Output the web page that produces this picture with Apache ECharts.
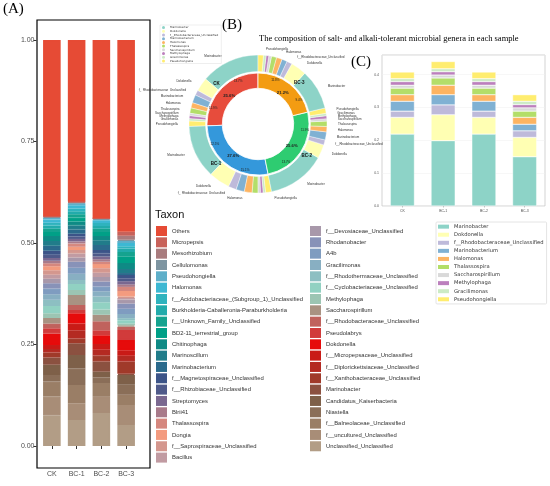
<!DOCTYPE html>
<html><head><meta charset="utf-8">
<script src="https://cdn.jsdelivr.net/npm/echarts@6/dist/echarts.min.js"></script>
<style>html,body{margin:0;padding:0;background:#fff}#c{width:550px;height:486px}</style>
</head><body><div id="c"></div>
<script>
// ---------- Panel A : relative abundance of taxa (legend order, top to bottom) ----------
const samples = ['CK', 'BC-1', 'BC-2', 'BC-3'];
const taxa = ['Others','Micropepsis','Mesorhizobium','Cellulomonas','Pseudohongiella','Halomonas',
  'f__Acidobacteriaceae_(Subgroup_1)_Unclassified','Burkholderia-Caballeronia-Paraburkholderia',
  'f__Unknown_Family_Unclassified','BD2-11_terrestrial_group','Chitinophaga','Marinoscillum',
  'Marinobacterium','f__Magnetospiraceae_Unclassified','f__Rhizobiaceae_Unclassified','Streptomyces',
  'Blrii41','Thalassospira','Dongia','f__Saprospiraceae_Unclassified','Bacillus',
  'f__Devosiaceae_Unclassified','Rhodanobacter','A4b','Gracilimonas','f__Rhodothermaceae_Unclassified',
  'f__Cyclobacteriaceae_Unclassified','Methylophaga','Saccharospirillum','f__Rhodobacteraceae_Unclassified',
  'Pseudolabrys','Dokdonella','f__Micropepsaceae_Unclassified','f__Diplorickettsiaceae_Unclassified',
  'f__Xanthobacteraceae_Unclassified','Marinobacter','Candidatus_Kaiserbacteria','Niastella',
  'f__Balneolaceae_Unclassified','f__uncultured_Unclassified','Unclassified_Unclassified'];
const taxaColors = ['#E64B35','#C8625A','#A97C7E','#7E95A1','#5EAFC9','#3DB8D3','#2FB3BE','#22ABAB',
  '#15A38F','#00A087','#0F8A85','#217C8A','#2B6A8C','#3C5488','#4F5A8A','#7A6890','#A87A8A','#D5877E',
  '#F39B7F','#D4978E','#C19BA2','#A898AA','#8892B8','#7F9CC0','#88AFC2','#8DBFC2','#91D1C2','#9CC5B3',
  '#A99282','#C0625D','#D13B3B','#E60B0B','#C91B17','#B42A22','#A03A2A','#8B5140','#7E6049','#8A6E58',
  '#9A7E66','#A88D77','#B29D86'];
const abundCK  = [0.434,0.001,0.001,0.002,0.004,0.008,0.007,0.008,0.008,0.010,0.012,0.012,0.012,0.010,0.008,0.007,
  0.006,0.007,0.010,0.011,0.010,0.011,0.013,0.014,0.014,0.015,0.018,0.012,0.013,0.012,0.013,0.028,0.010,0.009,
  0.012,0.018,0.025,0.016,0.037,0.047,0.075];
const abundBC1 = [0.398,0.001,0.001,0.002,0.005,0.008,0.007,0.007,0.008,0.010,0.010,0.010,0.010,0.007,0.006,0.006,
  0.005,0.008,0.008,0.009,0.010,0.010,0.015,0.015,0.015,0.010,0.015,0.012,0.025,0.012,0.008,0.025,0.017,0.020,
  0.012,0.029,0.033,0.041,0.045,0.041,0.064];
const abundBC2 = [0.439,0.0005,0.0005,0.001,0.003,0.007,0.007,0.007,0.008,0.010,0.010,0.012,0.012,0.009,0.007,0.007,
  0.006,0.006,0.010,0.011,0.011,0.011,0.012,0.012,0.013,0.014,0.018,0.013,0.016,0.022,0.012,0.022,0.014,0.014,
  0.015,0.025,0.014,0.014,0.034,0.040,0.081];
const abundBC3 = [0.472,0.010,0.010,0.003,0.005,0.008,0.006,0.008,0.012,0.015,0.015,0.010,0.005,0.008,0.007,0.008,
  0.006,0.010,0.014,0.003,0.004,0.010,0.013,0.013,0.010,0.005,0.008,0.005,0.003,0.008,0.025,0.025,0.014,0.014,
  0.030,0.003,0.024,0.025,0.025,0.049,0.052];
const yTicksA = [0, 0.25, 0.5, 0.75, 1];

// ---------- Panels B & C : salt- and alkali-tolerant genera ----------
const genera = ['Marinobacter','Dokdonella','f__Rhodobacteraceae_Unclassified','Marinobacterium','Halomonas',
  'Thalassospira','Saccharospirillum','Methylophaga','Gracilimonas','Pseudohongiella'];
const generaColors = ['#8DD3C7','#FFFFB3','#BEBADA','#80B1D3','#FDB462','#B3DE69','#D9D9D9','#BC80BD','#CCEBC5','#FFED6F'];
const valMarinobacter    = [0.219, 0.199, 0.219, 0.150];
const valDokdonella      = [0.051, 0.079, 0.051, 0.059];
const valRhodobacteraceae= [0.019, 0.030, 0.019, 0.020];
const valMarinobacterium = [0.030, 0.031, 0.030, 0.020];
const valHalomonas       = [0.020, 0.029, 0.020, 0.021];
const valThalassospira   = [0.020, 0.022, 0.020, 0.019];
const valSaccharospirillum=[0.009, 0.009, 0.009, 0.010];
const valMethylophaga    = [0.011, 0.010, 0.011, 0.010];
const valGracilimonas    = [0.009, 0.009, 0.009, 0.010];
const valPseudohongiella = [0.020, 0.022, 0.020, 0.020];
const sampleColors = ['#E74C3C', '#3498DB', '#2ECC71', '#F39C12'];
const yTicksC = [0, 0.1, 0.2, 0.3, 0.4];

const generaVals = [valMarinobacter, valDokdonella, valRhodobacteraceae, valMarinobacterium, valHalomonas,
  valThalassospira, valSaccharospirillum, valMethylophaga, valGracilimonas, valPseudohongiella];
const abundBySample = [abundCK, abundBC1, abundBC2, abundBC3];
const strip = n => n.replace(/^[A-Z]:/, '');

const series = [];
// Panel A stacked bars (bottom = last legend entry)
for (let i = taxa.length - 1; i >= 0; i--) {
  series.push({
    type: 'bar', name: 'A:' + taxa[i], stack: 'A', xAxisIndex: 0, yAxisIndex: 0,
    barWidth: '71%', data: abundBySample.map(a => a[i]),
    itemStyle: { color: taxaColors[i], borderColor: taxaColors[i], borderWidth: 1.4 }, emphasis: { disabled: true }
  });
}
// Panel C stacked bars
genera.forEach((g, k) => {
  series.push({
    type: 'bar', name: 'C:' + g, stack: 'C', xAxisIndex: 1, yAxisIndex: 1,
    barWidth: '59%', data: generaVals[k],
    itemStyle: { color: generaColors[k], borderColor: '#fff', borderWidth: 0.4 },
    emphasis: { disabled: true }
  });
});
// Panel B
const pieCenter = [258, 124];
const outerData = [];
samples.forEach((s, j) => {
  genera.forEach((g, k) => {
    outerData.push({ name: 'B:' + g, value: generaVals[k][j], itemStyle: { color: generaColors[k] } });
  });
});
const sampleTotals = samples.map((s, j) => generaVals.reduce((t, v) => t + v[j], 0));
const pieCommon = { type: 'pie', center: pieCenter, startAngle: 90, clockwise: false,
  avoidLabelOverlap: false, animation: false, emphasis: { disabled: true }, percentPrecision: 1 };
series.push(Object.assign({}, pieCommon, {
  name: 'outer', radius: [52.5, 69], data: outerData,
  itemStyle: { borderColor: '#fff', borderWidth: 0.4 },
  label: { show: true, position: 'outside', fontSize: 3, color: '#333', formatter: p => strip(p.name) },
  labelLine: { show: false, length: 6, length2: 0 }
}));
series.push(Object.assign({}, pieCommon, {
  name: 'inner', radius: [35.7, 51],
  data: samples.map((s, j) => ({ name: 'S:' + s, value: sampleTotals[j], itemStyle: { color: sampleColors[j] } })),
  itemStyle: { borderColor: '#fff', borderWidth: 0.8 }, label: { show: false }, labelLine: { show: false }
}));
// small percentage labels inside inner ring (Marinobacter share / remainder)
const subData = [];
samples.forEach((s, j) => {
  subData.push({ name: 'm' + s, value: valMarinobacter[j] });
  subData.push({ name: 'r' + s, value: sampleTotals[j] - valMarinobacter[j] });
});
series.push(Object.assign({}, pieCommon, {
  name: 'innerSub', radius: [38, 51], silent: true, data: subData,
  itemStyle: { color: 'rgba(0,0,0,0)' },
  label: { show: true, position: 'inside', fontSize: 3, color: '#222', formatter: '{d}%' }, labelLine: { show: false }
}));
series.push(Object.assign({}, pieCommon, {
  name: 'innerMain', radius: [30, 44], silent: true,
  data: samples.map((s, j) => ({ name: 'T' + s, value: sampleTotals[j] })),
  itemStyle: { color: 'rgba(0,0,0,0)' },
  label: { show: true, position: 'inside', fontSize: 4.2, fontWeight: 'bold', color: '#222', formatter: '{d}%' },
  labelLine: { show: false }
}));
// sample names at the end of each sample's Marinobacter segment
const nameData = [];
samples.forEach((s, j) => {
  nameData.push({ name: 'n1' + s, value: valMarinobacter[j] * 0.85, label: { show: false } });
  nameData.push({ name: 'n2' + s, value: valMarinobacter[j] * 0.15, label: { show: true, formatter: s } });
  nameData.push({ name: 'n3' + s, value: sampleTotals[j] - valMarinobacter[j], label: { show: false } });
});
series.push(Object.assign({}, pieCommon, {
  name: 'names', radius: [48, 62], silent: true, data: nameData,
  itemStyle: { color: 'rgba(0,0,0,0)' },
  label: { position: 'inside', fontSize: 4.5, fontWeight: 'bold', color: '#111' }, labelLine: { show: false }
}));

const half = 21;
const legendA = (names, left) => ({
  orient: 'vertical', left: left, top: 226, padding: 0, itemWidth: 11, itemHeight: 10, itemGap: 1.33,
  selectedMode: false, icon: 'rect', data: names.map(n => 'A:' + n), formatter: strip,
  itemStyle: { borderWidth: 0 },
  textStyle: { fontSize: 5.9, color: '#333', fontFamily: 'Liberation Sans' }
});

const option = {
  animation: false,
  textStyle: { fontFamily: 'Liberation Sans' },
  title: [
    { text: '(A)', left: 3, top: 2, padding: 0, textStyle: { fontFamily: 'Liberation Serif', fontSize: 15, fontWeight: 'normal', color: '#000' } },
    { text: '(B)', left: 222, top: 18, padding: 0, textStyle: { fontFamily: 'Liberation Serif', fontSize: 15, fontWeight: 'normal', color: '#000' } },
    { text: '(C)', left: 351, top: 55, padding: 0, textStyle: { fontFamily: 'Liberation Serif', fontSize: 15, fontWeight: 'normal', color: '#000' } },
    { text: 'The composition of salt- and alkali-tolerant microbial genera in each sample', left: 259, top: 34.5, padding: 0,
      textStyle: { fontFamily: 'Liberation Serif', fontSize: 8.5, fontWeight: 'normal', color: '#000' } },
    { text: 'Taxon', left: 155, top: 209, padding: 0, textStyle: { fontFamily: 'Liberation Sans', fontSize: 11, fontWeight: 'normal', color: '#111' } }
  ],
  legend: [
    legendA(taxa.slice(0, half), 156),
    legendA(taxa.slice(half), 310),
    { orient: 'vertical', left: 436, top: 222, padding: [1.5, 3, 1.5, 2], itemWidth: 11, itemHeight: 4, itemGap: 1.77,
      selectedMode: false, icon: 'rect', borderColor: '#ddd', borderWidth: 0.8, borderRadius: 1,
      itemStyle: { borderWidth: 0 },
      data: genera.map(g => 'C:' + g), formatter: strip,
      textStyle: { fontSize: 5.2, lineHeight: 6.3, color: '#333', fontFamily: 'DejaVu Sans' } },
    { orient: 'vertical', left: 160, top: 25, padding: [1, 3, 1, 2], itemWidth: 3, itemHeight: 3, itemGap: 0.5,
      selectedMode: false, icon: 'circle', borderColor: '#ddd', borderWidth: 0.5,
      itemStyle: { borderWidth: 0 },
      data: genera.map(g => 'B:' + g), formatter: strip,
      textStyle: { fontSize: 2.8, lineHeight: 3.2, color: '#333', fontFamily: 'DejaVu Sans' } }
  ],
  grid: [
    { left: 39.5, width: 99, top: 40, height: 406 },
    { left: 382, width: 163, top: 55, height: 151, show: true, borderColor: '#c8c8c8', borderWidth: 0.8 }
  ],
  xAxis: [
    { type: 'category', gridIndex: 0, data: samples, offset: 22,
      axisLine: { show: false }, axisTick: { show: true, length: 3, alignWithLabel: true, lineStyle: { color: '#333' } },
      axisLabel: { fontSize: 7, color: '#4d4d4d', margin: 3 } },
    { type: 'category', gridIndex: 1, data: samples,
      axisLine: { show: false }, axisTick: { show: true, length: 1.5, alignWithLabel: true, lineStyle: { color: '#888', width: 0.5 } },
      axisLabel: { fontSize: 3.5, color: '#555', margin: 3 } }
  ],
  yAxis: [
    { type: 'value', gridIndex: 0, min: 0, max: 1, interval: 0.25, offset: 3,
      axisLine: { show: false }, splitLine: { show: false },
      axisTick: { show: true, length: 3, lineStyle: { color: '#333' } },
      axisLabel: { fontSize: 7, color: '#4d4d4d', margin: 2, formatter: v => yTicksA.includes(v) ? v.toFixed(2) : '' } },
    { type: 'value', gridIndex: 1, min: 0, max: 0.46, interval: 0.1,
      axisLine: { show: false }, axisTick: { show: false },
      splitLine: { show: true, lineStyle: { color: '#eee', width: 0.5 } },
      axisLabel: { fontSize: 3.5, color: '#555', margin: 3, showMaxLabel: false,
        formatter: v => yTicksC.some(t => Math.abs(t - v) < 1e-9) ? v.toFixed(1) : '' } }
  ],
  graphic: [
    { type: 'rect', shape: { x: 37, y: 20, width: 113, height: 448 }, silent: true,
      style: { fill: 'none', stroke: '#000', lineWidth: 1.2 } }
  ],
  series: series
};
const chart = echarts.init(document.getElementById('c'), null, { renderer: 'canvas' });
chart.setOption(option);
</script></body></html>
